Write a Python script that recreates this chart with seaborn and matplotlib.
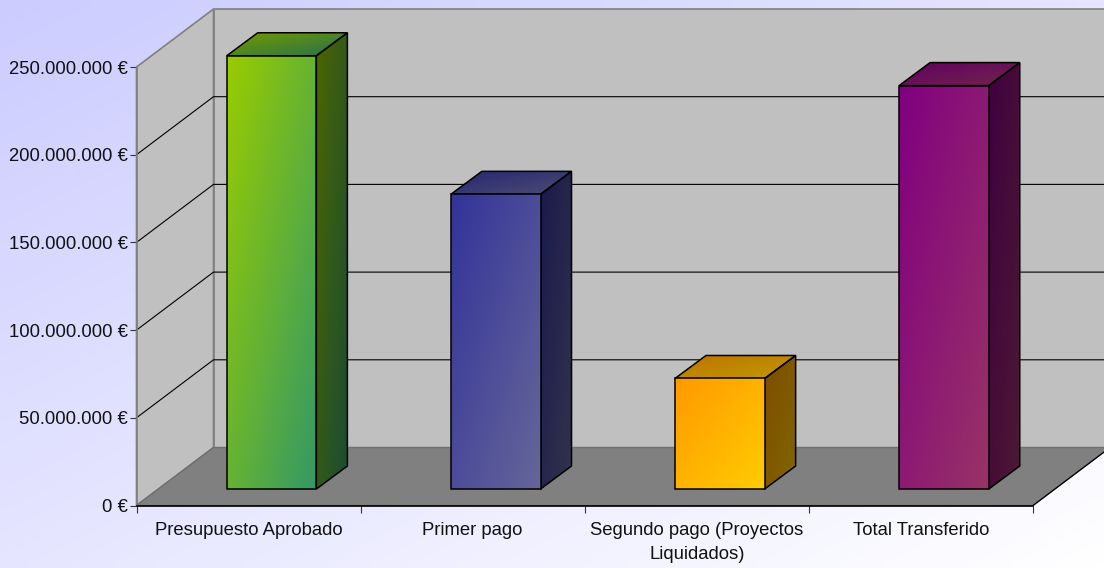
#import libs

import numpy as np
import pandas as pd
import matplotlib
matplotlib.use('Agg')
import matplotlib.pyplot as plt
import matplotlib.ticker as ticker
from matplotlib.colors import to_rgb
from matplotlib.patches import Polygon
import seaborn as sns

# the chart values

categories = ['Presupuesto Aprobado', 'Primer pago', 'Segundo pago (Proyectos\nLiquidados)', 'Total Transferido']
amounts = [247000000, 168000000, 63000000, 230000000]
y_ticks = [0, 50000000, 100000000, 150000000, 200000000, 250000000]
colors_start = ['#99CC00', '#333399', '#FF9900', '#800080']
colors_end = ['#339966', '#666699', '#FFCC00', '#993366']

W, H = 1104, 568
AX_LEFT, AX_RIGHT, AX_TOP, AX_BOTTOM = 136.5, 1033, 67, 505.5

sns.set_theme(style='white')
plt.rcParams['font.family'] = ['Liberation Sans', 'DejaVu Sans']

fig = plt.figure(figsize=(W / 100, H / 100), dpi=100)

#background gradient

bg = fig.add_axes([0, 0, 1, 1], zorder=-1)
bg.axis('off')

def gradient(c0, c1, n=80):
    u, v = np.meshgrid(np.linspace(0, 1, n), np.linspace(0, 1, n))
    t = ((u + v) / 2)[..., None]
    return np.array(to_rgb(c0)) * (1 - t) + np.array(to_rgb(c1)) * t

bg.imshow(gradient('#CCCCFF', '#FFFFFF'), aspect='auto', interpolation='bilinear')

ax = fig.add_axes([AX_LEFT / W, 1 - AX_BOTTOM / H, (AX_RIGHT - AX_LEFT) / W, (AX_BOTTOM - AX_TOP) / H])
ax.patch.set_alpha(0)

df = pd.DataFrame({'category': categories, 'amount': amounts})
sns.barplot(data=df, x='category', y='amount', hue='category', palette=colors_start,
            width=0.4, edgecolor='black', linewidth=1, legend=False, ax=ax)

ax.set_xlim(-0.5, 3.5)
ax.set_ylim(0, 250000000)

# pixels to data units

px_x = 4 / (AX_RIGHT - AX_LEFT)
px_y = 250000000 / (AX_BOTTOM - AX_TOP)

wall_dx, wall_dy = 77 * px_x, 58 * px_y
bar_dx, bar_dy = 31 * px_x, 23 * px_y
shift_x, lift_y = 23 * px_x, 16.5 * px_y

x0, x1 = -0.5, 3.5
top = 250000000
wall_right = x1 + wall_dx

#walls and floor

ax.add_patch(Polygon([(x0 + wall_dx, wall_dy), (wall_right, wall_dy), (wall_right, top + wall_dy), (x0 + wall_dx, top + wall_dy)],
                     facecolor='#C0C0C0', edgecolor='#808080', linewidth=1.2, clip_on=False, zorder=1))
ax.add_patch(Polygon([(x0, 0), (x0 + wall_dx, wall_dy), (x0 + wall_dx, top + wall_dy), (x0, top)],
                     facecolor='#C0C0C0', edgecolor='#808080', linewidth=1.2, clip_on=False, zorder=1))
ax.add_patch(Polygon([(x0, 0), (x1, 0), (wall_right, wall_dy), (x0 + wall_dx, wall_dy)],
                     facecolor='#808080', edgecolor='#707070', linewidth=1, clip_on=False, zorder=1.5))
ax.plot([x1, wall_right], [0, wall_dy], color='black', linewidth=0.9, clip_on=False, zorder=1.6)

#gridlines

for tick in y_ticks[1:-1]:
    ax.plot([x0, x0 + wall_dx, wall_right], [tick, tick + wall_dy, tick + wall_dy],
            color='black', linewidth=0.8, clip_on=False, zorder=1.6)

def shade(c, factor):
    return tuple(np.array(to_rgb(c)) * factor)

def fill_gradient(points, c0, c1, z):
    poly = Polygon(points, facecolor='none', edgecolor='black', linewidth=1.1, clip_on=False, zorder=z + 0.1)
    ax.add_patch(poly)
    xs, ys = zip(*points)
    im = ax.imshow(gradient(c0, c1), extent=(min(xs), max(xs), min(ys), max(ys)), aspect='auto',
                   interpolation='bilinear', zorder=z)
    im.set_clip_box(fig.bbox)
    im.set_clip_path(poly)

#the 3d look of the bars

for bar, c0, c1 in zip(list(ax.patches)[:4], colors_start, colors_end):
    left = bar.get_x() + shift_x
    right = left + bar.get_width()
    low = lift_y
    high = bar.get_height() + lift_y
    bar.set_visible(False)
    fill_gradient([(right, low), (right + bar_dx, low + bar_dy), (right + bar_dx, high + bar_dy), (right, high)],
                  shade(c0, 0.5), shade(c1, 0.5), 3)
    fill_gradient([(left, high), (right, high), (right + bar_dx, high + bar_dy), (left + bar_dx, high + bar_dy)],
                  shade(c0, 0.75), shade(c1, 0.75), 3)
    fill_gradient([(left, low), (right, low), (right, high), (left, high)], c0, c1, 4)

ax.set_xlim(-0.5, 3.5)
ax.set_ylim(0, 250000000)

#axes

for side in ['top', 'right']:
    ax.spines[side].set_visible(False)
ax.spines['left'].set_color('#808080')
ax.spines['left'].set_linewidth(1.2)
ax.spines['left'].set_zorder(2)
ax.spines['bottom'].set_color('black')
ax.spines['bottom'].set_linewidth(1.2)
ax.spines['bottom'].set_zorder(2)

ax.set_xlabel('')
ax.set_ylabel('')
ax.set_yticks(y_ticks)
ax.yaxis.set_major_formatter(ticker.FuncFormatter(lambda v, _: '{:,.0f} €'.format(v).replace(',', '.')))
ax.set_xticks(np.arange(-0.5, 4, 1))
ax.set_xticklabels([])
ax.set_xticks(np.arange(4), categories, minor=True)
ax.tick_params(axis='y', which='major', left=True, length=5, width=0.8, color='#333333', pad=1, labelsize=13.3, labelcolor='#111111')
ax.tick_params(axis='x', which='major', bottom=True, length=5, width=0.8, color='#333333')
ax.tick_params(axis='x', which='minor', bottom=False, length=0, pad=12.2, labelsize=13.3, labelcolor='#111111')
for label in ax.get_xticklabels(minor=True):
    label.set_linespacing(1.47)

fig.savefig('out.png', dpi=100)
